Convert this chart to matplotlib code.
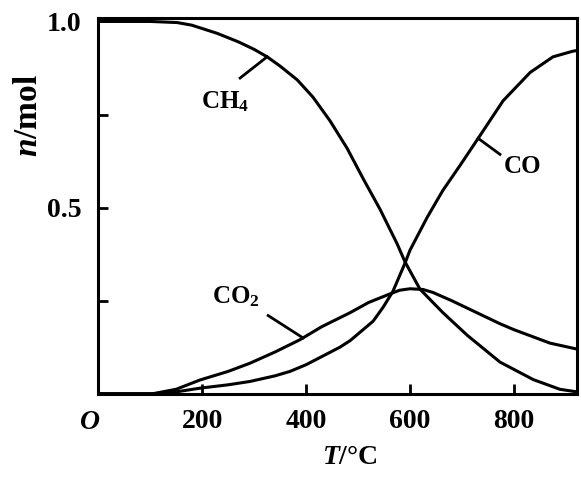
import matplotlib
matplotlib.use("Agg")
import matplotlib.pyplot as plt
from matplotlib.ticker import MultipleLocator

# --- data (T in degC, n in mol) ---
t_ch4 = [0, 100, 152, 180, 229, 270, 300, 325, 350, 383, 413, 446, 479, 510, 542, 575, 590,
         619, 663, 710, 773, 837, 888, 921]
n_ch4 = [1.0, 1.0, 0.997, 0.99, 0.968, 0.945, 0.925, 0.905, 0.88, 0.843, 0.797, 0.733, 0.659,
         0.577, 0.496, 0.403, 0.355, 0.281, 0.218, 0.157, 0.085, 0.038, 0.012, 0.005]

t_co = [0, 105, 150, 196, 250, 292, 340, 369, 400, 465, 485, 529, 548, 567, 590, 600, 633,
        663, 696, 731, 779, 831, 875, 913, 921]
n_co = [0.0, 0.0, 0.005, 0.015, 0.024, 0.033, 0.048, 0.06, 0.078, 0.125, 0.143, 0.195, 0.232,
        0.275, 0.35, 0.386, 0.474, 0.546, 0.613, 0.686, 0.787, 0.863, 0.905, 0.92, 0.922]

t_co2 = [0, 105, 150, 196, 250, 292, 340, 388, 430, 485, 520, 561, 580, 600, 625, 644, 680,
         710, 773, 800, 869, 921]
n_co2 = [0.0, 0.0, 0.012, 0.037, 0.06, 0.082, 0.112, 0.145, 0.18, 0.218, 0.245, 0.268, 0.278,
         0.282, 0.28, 0.272, 0.25, 0.23, 0.188, 0.172, 0.136, 0.12]

x_ticks = [200, 400, 600, 800]
x_tick_labels = ["200", "400", "600", "800"]
y_ticks = [0.5, 1.0]
y_tick_labels = ["0.5", "1.0"]

# curve labels: (text, text pos, leader start, leader end)
labels = [
    ("CH$_4$", (244, 0.785), (273, 0.848), (325, 0.905)),
    ("CO", (817, 0.61), (773, 0.643), (731, 0.686)),
    ("CO$_2$", (265, 0.26), (327, 0.21), (394, 0.15)),
]

plt.rcParams["font.family"] = ["Liberation Serif", "DejaVu Serif"]
plt.rcParams["font.weight"] = "bold"
plt.rcParams["mathtext.fontset"] = "custom"
plt.rcParams["mathtext.rm"] = "Liberation Serif:bold"
plt.rcParams["mathtext.it"] = "Liberation Serif:italic:bold"
plt.rcParams["mathtext.bf"] = "Liberation Serif:bold"

fig = plt.figure(figsize=(5.81, 4.79), dpi=100)
ax = fig.add_axes([0.169, 0.178, 0.824, 0.785])

lw = 2.2
ax.plot(t_ch4, n_ch4, color="black", lw=lw)
ax.plot(t_co, n_co, color="black", lw=lw)
ax.plot(t_co2, n_co2, color="black", lw=lw)

for txt, pos, a, b in labels:
    ax.text(pos[0], pos[1], txt, fontsize=18, ha="center", va="center", fontweight="bold")
    ax.plot([a[0], b[0]], [a[1], b[1]], color="black", lw=2)

ax.set_xlim(0, 921)
ax.set_ylim(0, 1.01)

ax.set_xticks(x_ticks)
ax.set_xticklabels(x_tick_labels)
ax.set_yticks(y_ticks)
ax.set_yticklabels(y_tick_labels)
ax.yaxis.set_minor_locator(MultipleLocator(0.25))

ax.tick_params(axis="both", which="both", direction="in", width=2, length=7, labelsize=20)
ax.tick_params(axis="x", pad=11)
ax.tick_params(axis="y", pad=12)
for lab in ax.get_xticklabels() + ax.get_yticklabels():
    lab.set_fontweight("bold")

for sp in ax.spines.values():
    sp.set_linewidth(2.2)

ax.text(-0.017, -0.077, "$O$", transform=ax.transAxes, fontsize=20, ha="center", va="center")
ax.text(0.526, -0.17, "$T$/\u00b0C", transform=ax.transAxes, fontsize=20, ha="center", va="center")
ax.text(-0.145, 0.74, "$n$/mol", transform=ax.transAxes, fontsize=24, ha="center", va="center",
        rotation=90)

plt.savefig("out.png", dpi=100)
